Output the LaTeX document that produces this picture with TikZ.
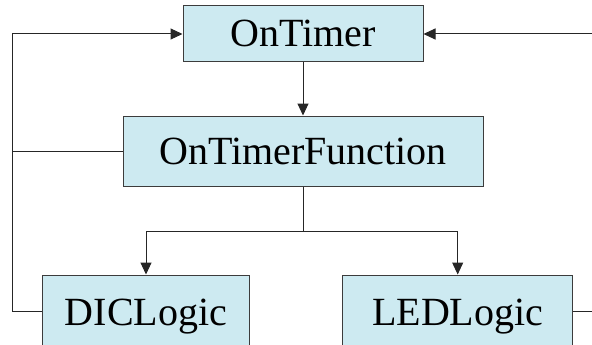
\documentclass[tikz,border=0pt]{standalone}
\usepackage{fontspec}
\setmainfont{Liberation Serif}
\usetikzlibrary{arrows.meta}
\definecolor{boxfill}{RGB}{205,234,241}
\definecolor{boxline}{RGB}{60,60,60}
\begin{document}
\begin{tikzpicture}[x=1pt,y=-1pt,
  blk/.style={draw=boxline,line width=1pt,fill=boxfill,inner sep=0pt,
    font=\fontsize{40}{40}\selectfont,text height=26pt,text depth=0pt},
  conn/.style={draw=black!85,line width=1pt},
  arr/.style={conn,-{Triangle[length=12pt,width=11pt]}}]
\useasboundingbox (0,0) rectangle (592,345);
\clip (0,0) rectangle (592,345);
\node[blk,minimum width=240pt,minimum height=56pt] (ot) at (303,34) {OnTimer};
\node[blk,minimum width=360pt,minimum height=70pt] (otf) at (303,151) {OnTimerFunction};
\node[blk,minimum width=207pt,minimum height=74pt] (dic) at (146,312) {DICLogic};
\node[blk,minimum width=230pt,minimum height=74pt] (led) at (457.7,312) {LEDLogic};
\coordinate (lt) at (12.7,34);
\coordinate (lf) at (12.7,151);
\coordinate (lb) at (12.7,311);
\coordinate (rt) at (592,34);
\coordinate (rb) at (592,311);
\coordinate (sp) at (303,231);
\coordinate (spl) at (146,231);
\coordinate (spr) at (457.7,231);
\draw[arr] (dic.west |- lb) -- (lb) -- (lt) -- (ot.west);
\draw[conn] (otf.west) -- (lf);
\draw[arr] (rt) -- (ot.east);
\draw[conn] (led.east |- rb) -- (rb);
\draw[arr] (ot.south) -- (otf.north);
\draw[conn] (otf.south) -- (sp);
\draw[arr] (sp) -- (spl) -- (dic.north);
\draw[arr] (sp) -- (spr) -- (led.north);
\end{tikzpicture}
\end{document}
